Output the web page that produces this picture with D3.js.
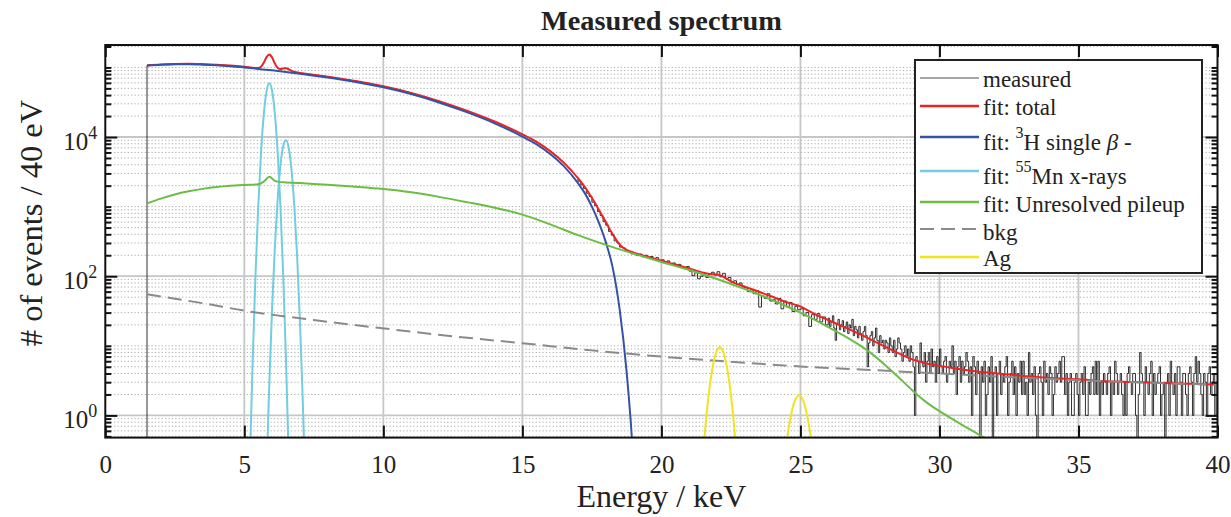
<!DOCTYPE html>
<html><head><meta charset="utf-8">
<script src="https://cdn.jsdelivr.net/npm/d3@7"></script>
<style>
body{margin:0;background:#fff}
svg{display:block}
text{font-family:"Liberation Serif","Times New Roman",serif;fill:#222}
</style>
</head><body>
<svg id="chart" width="1231" height="517"></svg>
<script>
// ---------------- data ----------------
const titleText = "Measured spectrum";
const xLabelText = "Energy / keV";
const yLabelText = "# of events / 40 eV";
const xTicks = [0, 5, 10, 15, 20, 25, 30, 35, 40];
const yMajorTicks = [1, 100, 10000];
const yMajorExp = ["0", "2", "4"];

// measured: smooth part (hidden under the fit), then histogram bins
const measLowE = [1.5, 1.5, 2, 2.5, 3, 3.5, 4, 4.5, 5, 5.4, 5.5, 5.6, 5.7, 5.8, 5.9, 6.0, 6.1, 6.2, 6.3, 6.4, 6.5, 6.6, 6.7, 6.8, 7.0, 8, 9, 10, 11, 12, 13, 14, 15, 15.5, 16, 16.5, 17.0];
const measLowV = [0, 107000, 110200, 112300, 112600, 111500, 109300, 106300, 102100, 98300, 98500, 102400, 117200, 140400, 153100, 139100, 113400, 98400, 95000, 96900, 97000, 94100, 89300, 86500, 83400, 73700, 63900, 53500, 43000, 32800, 23900, 16700, 10950, 8550, 6280, 4250, 2560];
const measBinsAStart = 17.0, measBinsAWidth = 0.1;
const measBinsA = [
  2320, 2050, 1830, 1560, 1400, 1160, 1030, 850, 745, 610,
  540, 440, 390, 322, 300, 262, 255, 228, 226, 210,
  212, 198, 208, 190, 200, 183, 192, 178, 185, 168,
  172, 160, 166, 150, 155, 142, 148, 136, 130, 138,
  118, 102, 112, 92, 100, 104, 96, 108, 114, 104,
  116, 98, 110, 92, 96, 82, 86, 76, 80, 70,
  68, 60, 64, 56, 62, 36, 52, 48, 56, 44,
  46, 40, 48, 34, 44, 36, 42, 31, 37, 33,
  34, 27, 30, 19, 28, 24, 29, 22, 26, 20
];
const measBinsBStart = 26.0, measBinsBWidth = 0.05;
const measBinsB = [
  25, 19, 22, 27, 18, 12, 21, 24, 17, 20, 23, 16, 19, 22, 15, 20, 18, 24, 14, 19,
  17, 13, 19, 15, 12, 16, 19, 14, 5, 11, 14, 16, 10, 13, 18, 12, 8, 14, 11, 12,
  9, 12, 11, 8, 13, 10, 8, 12, 7, 9, 13, 11, 9, 6, 8, 10, 7, 9, 6, 10,
  8, 5, 1, 7, 6, 4, 11, 6, 5, 8, 3, 6, 8, 4, 9, 5, 6, 3, 7, 4,
  9, 5, 4, 6, 7, 3, 4, 6, 5, 10, 4, 6, 2, 5, 7, 3, 6, 4, 5, 8,
  6, 3, 5, 1, 7, 5, 2, 6, 4, 0, 5, 3, 6, 1, 2, 5, 3, 7, 0, 4,
  5, 1, 4, 6, 2, 4, 3, 5, 7, 1, 3, 4, 6, 2, 5, 1, 4, 3, 6, 2,
  6, 2, 3, 1, 8, 3, 4, 2, 5, 1, 0, 4, 5, 3, 1, 6, 3, 4, 2, 5,
  4, 1, 2, 5, 3, 4, 6, 3, 7, 7, 2, 4, 1, 3, 4, 1, 1, 3, 4, 2,
  1, 3, 4, 2, 5, 1, 1, 3, 2, 4, 5, 2, 6, 2, 6, 1, 3, 2, 4, 3,
  2, 4, 5, 1, 3, 2, 6, 4, 2, 3, 4, 2, 1, 3, 1, 4, 5, 3, 2, 4,
  4, 1, 0, 2, 8, 4, 3, 1, 5, 3, 2, 4, 6, 1, 4, 2, 3, 4, 5, 1,
  2, 3, 0, 3, 4, 1, 6, 3, 2, 4, 1, 5, 5, 3, 1, 4, 4, 2, 1, 4,
  5, 3, 1, 4, 7, 3, 6, 4, 2, 1, 4, 3, 1, 4, 5, 2, 3, 4, 1, 3
];

// fit: total
const totalE = [1.5, 2.0, 2.5, 3.0, 3.5, 4.0, 4.5, 5.0, 5.4, 5.5, 5.6, 5.7, 5.8, 5.9, 6.0, 6.1, 6.2, 6.3, 6.4, 6.5, 6.6, 6.7, 6.8, 6.9, 7.0, 8.0, 9.0, 10.0, 11.0, 12.0, 13.0, 14.0, 15.0, 15.5, 16.0, 16.5, 17.0, 17.25, 17.5, 17.75, 18.0, 18.25, 18.5, 18.75, 19.0, 19.5, 20.0, 20.5, 21.0, 21.5, 21.8, 22.0, 22.1, 22.2, 22.4, 22.6, 23.0, 23.5, 24.0, 24.5, 24.8, 24.95, 25.1, 25.3, 25.6, 26.0, 26.5, 27.0, 27.5, 28.0, 28.5, 29.0, 29.5, 30.0, 30.5, 31.0, 31.5, 32.0, 33.0, 34.0, 35.0, 36.0, 37.0, 38.0, 39.0, 40.0];
const totalV = [107100, 110250, 112240, 112600, 111440, 109350, 106230, 102080, 98380, 98400, 102550, 117060, 140600, 153340, 138950, 113590, 98270, 95110, 96770, 97160, 94000, 89450, 86390, 84620, 83510, 73690, 63890, 53560, 43020, 32800, 23920, 16720, 10940, 8560, 6276, 4256, 2568, 1915, 1339, 902, 599, 400, 285, 239, 218, 190, 167, 147, 129.5, 112.6, 106.8, 105.8, 103.6, 99.7, 89.2, 80.7, 71, 59.8, 50.6, 42.2, 39.1, 37.5, 35.2, 31.7, 27.5, 23.4, 19.2, 15.6, 12.5, 9.9, 7.93, 6.44, 5.63, 5.15, 4.77, 4.46, 4.21, 4.05, 3.69, 3.45, 3.3, 3.1, 3.03, 2.93, 2.85, 2.77];

// fit: 3H single beta
const betaE = [1.5, 2.0, 2.5, 3.0, 3.5, 4.0, 4.5, 5.0, 6.0, 7.0, 8.0, 9.0, 10.0, 11.0, 12.0, 13.0, 14.0, 15.0, 15.5, 16.0, 16.5, 17.0, 17.25, 17.5, 17.75, 18.0, 18.25, 18.5, 18.75, 18.9, 19.0];
const betaV = [105900, 108900, 110700, 110900, 109600, 107400, 104200, 100000, 90780, 81280, 71610, 61940, 51760, 41400, 31410, 22750, 15740, 10160, 7890, 5710, 3780, 2170, 1550, 1000, 589, 309, 132, 33, 4.2, 0.79, 0.2];

// fit: 55Mn x-rays (K-alpha and K-beta)
const mnKaE = [5.2, 5.3, 5.4, 5.5, 5.6, 5.7, 5.8, 5.9, 6.0, 6.1, 6.2, 6.3, 6.4, 6.5, 6.6];
const mnKaV = [0.22, 6.0, 100, 993, 5930, 21200, 45600, 59000, 45600, 21200, 5930, 993, 100, 6.0, 0.22];
const mnKbE = [5.8, 5.9, 6.0, 6.1, 6.2, 6.3, 6.4, 6.5, 6.6, 6.7, 6.8, 6.9, 7.0, 7.1, 7.2];
const mnKbV = [0.16, 3.0, 36, 273, 1300, 3940, 7500, 9000, 6840, 3270, 990, 188, 22.6, 1.7, 0.083];

// fit: unresolved pileup
const pileE = [1.5, 2.0, 2.5, 3.0, 3.5, 4.0, 4.5, 5.0, 5.5, 5.7, 5.9, 6.1, 6.3, 6.5, 7.0, 7.5, 8.0, 9.0, 10.0, 11.0, 12.0, 13.0, 14.0, 15.0, 16.0, 17.0, 18.0, 19.0, 20.0, 21.0, 22.0, 23.0, 24.0, 25.0, 26.0, 26.5, 27.0, 27.5, 28.0, 28.5, 29.0, 29.5, 30.0, 30.5, 31.0, 31.5, 32.0];
const pileV = [1109, 1303, 1496, 1660, 1799, 1914, 1995, 2051, 2099, 2291, 2692, 2344, 2249, 2228, 2178, 2118, 2056, 1928, 1786, 1603, 1380, 1161, 966, 767, 556, 389, 282, 211, 160, 123, 91.2, 65.3, 45.2, 29.9, 18.6, 14.5, 11.0, 8.04, 5.50, 3.63, 2.34, 1.58, 1.15, 0.87, 0.66, 0.51, 0.40];

// bkg
const bkgE = [1.5, 2.5, 3.5, 5.0, 7.5, 10, 12.5, 15, 17.5, 20, 22.5, 25, 27.5, 30, 32.5, 35, 37.5, 40];
const bkgV = [55, 47.5, 41, 32, 23.5, 17.8, 13.7, 10.9, 8.6, 7.0, 5.9, 5.05, 4.5, 4.0, 3.55, 3.2, 2.95, 2.75];

// Ag
const ag1E = [21.5, 21.6, 21.7, 21.8, 21.9, 22.0, 22.1, 22.2, 22.3, 22.4, 22.5, 22.6, 22.7];
const ag1V = [0.28, 0.82, 1.98, 3.9, 6.4, 8.6, 9.5, 8.6, 6.4, 3.9, 1.98, 0.82, 0.28];
const ag2E = [24.45, 24.55, 24.65, 24.75, 24.85, 24.95, 25.05, 25.15, 25.25, 25.35, 25.45];
const ag2V = [0.275, 0.56, 0.96, 1.43, 1.80, 1.95, 1.80, 1.43, 0.96, 0.56, 0.275];

// ---------------- layout ----------------
const L = 105.3, R = 1217.5, T = 45, B = 437.6;
const yMin = 0.48, yMax = 2.1e5;
const COL = {meas: "#1a1a1a", total: "#ee2224", beta: "#3553a6", mn: "#72cde0", pile: "#6cbd45", bkg: "#8a8a8a", ag: "#f2e41c"};

const svg = d3.select("#chart");
const x = d3.scaleLinear().domain([0, 40]).range([L, R]);
const y = d3.scaleLog().domain([yMin, yMax]).range([B, T]);
const yc = v => y(Math.max(v, yMin));

svg.append("defs").append("clipPath").attr("id", "plot")
  .append("rect").attr("x", L).attr("y", T).attr("width", R - L).attr("height", B - T);

// grid
const grid = svg.append("g");
const minorY = y.ticks().filter(v => !yMajorTicks.some(m => Math.abs(m - v) / m < 1e-6));
grid.selectAll(".minor").data(minorY).join("line")
  .attr("x1", L + 2).attr("x2", R - 2)
  .attr("y1", d => y(d)).attr("y2", d => y(d))
  .attr("stroke", "#aaaaaa").attr("stroke-width", 1).attr("stroke-dasharray", "1.2,2.2");
grid.selectAll(".majy").data(yMajorTicks).join("line")
  .attr("x1", L).attr("x2", R)
  .attr("y1", d => y(d)).attr("y2", d => y(d))
  .attr("stroke", "#c6c6c6").attr("stroke-width", 1.8);
grid.selectAll(".majx").data(xTicks.slice(1, -1)).join("line")
  .attr("x1", d => x(d)).attr("x2", d => x(d))
  .attr("y1", T).attr("y2", B)
  .attr("stroke", "#c6c6c6").attr("stroke-width", 1.8);

// series
const plot = svg.append("g").attr("clip-path", "url(#plot)");
const zipped = (e, v) => e.map((d, i) => [d, v[i]]);

// measured
const measPts = zipped(measLowE, measLowV);
function pushBins(bins, start, width) {
  bins.forEach((v, i) => {
    const e0 = start + i * width;
    measPts.push([e0, v], [e0 + width, v]);
  });
}
pushBins(measBinsA, measBinsAStart, measBinsAWidth);
pushBins(measBinsB, measBinsBStart, measBinsBWidth);
plot.append("path").datum(measPts)
  .attr("d", d3.line().x(d => x(d[0])).y(d => yc(d[1])))
  .attr("fill", "none").attr("stroke", COL.meas).attr("stroke-width", 0.9);

const smooth = d3.line().x(d => x(d[0])).y(d => y(d[1])).curve(d3.curveMonotoneX);
function drawSeries(e, v, color, dash) {
  const p = plot.append("path").datum(zipped(e, v))
    .attr("d", smooth).attr("fill", "none")
    .attr("stroke", color).attr("stroke-width", 2);
  if (dash) p.attr("stroke-dasharray", dash);
}
drawSeries(totalE, totalV, COL.total);
drawSeries(betaE, betaV, COL.beta);
drawSeries(mnKaE, mnKaV, COL.mn);
drawSeries(mnKbE, mnKbV, COL.mn);
drawSeries(pileE, pileV, COL.pile);
drawSeries(bkgE, bkgV, COL.bkg, "14,7");
drawSeries(ag1E, ag1V, COL.ag);
drawSeries(ag2E, ag2V, COL.ag);

// axes
function styleAxis(g) {
  g.select(".domain").remove();
  g.selectAll(".tick line").attr("stroke", "#111").attr("stroke-width", 2);
}
svg.append("g").attr("transform", `translate(0,${B})`)
  .call(d3.axisBottom(x).tickValues(xTicks).tickSizeInner(-12).tickSizeOuter(0).tickPadding(18))
  .call(styleAxis)
  .call(g => g.selectAll(".tick text").attr("font-size", 25).attr("font-family", "Liberation Serif").attr("fill", "#222"));
svg.append("g").attr("transform", `translate(0,${T})`)
  .call(d3.axisTop(x).tickValues(xTicks).tickSizeInner(-12).tickSizeOuter(0).tickFormat(""))
  .call(styleAxis);
[[L, d3.axisLeft], [R, d3.axisRight]].forEach(([pos, ax]) => {
  svg.append("g").attr("transform", `translate(${pos},0)`)
    .call(ax(y).tickValues(minorY).tickSizeInner(-6).tickSizeOuter(0).tickFormat(""))
    .call(styleAxis);
  svg.append("g").attr("transform", `translate(${pos},0)`)
    .call(ax(y).tickValues(yMajorTicks).tickSizeInner(-12).tickSizeOuter(0).tickFormat(""))
    .call(styleAxis);
});

// y tick labels with superscripts
const ylab = svg.append("g").selectAll("text").data(yMajorTicks).join("text")
  .attr("x", L - 8).attr("y", d => y(d) + 12.5)
  .attr("text-anchor", "end").attr("font-size", 25);
ylab.append("tspan").text("10");
ylab.append("tspan").attr("dy", -11).attr("font-size", 18).text((d, i) => yMajorExp[i]);

// frame
svg.append("rect").attr("x", L).attr("y", T).attr("width", R - L).attr("height", B - T)
  .attr("fill", "none").attr("stroke", "#111").attr("stroke-width", 2);

// titles
svg.append("text").attr("x", (L + R) / 2).attr("y", 30).attr("text-anchor", "middle")
  .attr("font-size", 28.3).attr("font-weight", "bold").text(titleText);
svg.append("text").attr("x", (L + R) / 2).attr("y", 507).attr("text-anchor", "middle")
  .attr("font-size", 32).text(xLabelText);
svg.append("text").attr("transform", `translate(42,223) rotate(-90)`).attr("text-anchor", "middle")
  .attr("font-size", 32.5).text(yLabelText);

// legend
const lg = svg.append("g");
lg.append("rect").attr("x", 915).attr("y", 60).attr("width", 287).attr("height", 213)
  .attr("fill", "#fff").attr("stroke", "#222").attr("stroke-width", 2);
const legendRows = [
  {line: 78, base: 86.5, color: "#888", w: 1.5, parts: [["measured"]]},
  {line: 106, base: 115, color: COL.total, w: 2.5, parts: [["fit: total"]]},
  {line: 137, base: 150, color: COL.beta, w: 2.5, parts: [["fit: "], ["3", "sup"], ["H single "], ["β", "it"], [" -"]]},
  {line: 171, base: 183.5, color: COL.mn, w: 2.5, parts: [["fit: "], ["55", "sup"], ["Mn x-rays"]]},
  {line: 202, base: 212, color: COL.pile, w: 2.5, parts: [["fit: Unresolved pileup"]]},
  {line: 229, base: 240, color: COL.bkg, w: 2, dash: "14,7", parts: [["bkg"]]},
  {line: 257, base: 265.5, color: COL.ag, w: 2.5, parts: [["Ag"]]}
];
legendRows.forEach(r => {
  const ln = lg.append("line").attr("x1", 920).attr("x2", 979).attr("y1", r.line).attr("y2", r.line)
    .attr("stroke", r.color).attr("stroke-width", r.w);
  if (r.dash) ln.attr("stroke-dasharray", r.dash);
  const t = lg.append("text").attr("x", 983).attr("y", r.base).attr("font-size", 23);
  let raised = false;
  r.parts.forEach(p => {
    const ts = t.append("tspan").text(p[0]);
    if (p[1] === "sup") { ts.attr("font-size", 16).attr("dy", -12); raised = true; }
    else if (raised) { ts.attr("dy", 12); raised = false; }
    if (p[1] === "it") ts.attr("font-style", "italic");
  });
});
</script>
</body></html>
